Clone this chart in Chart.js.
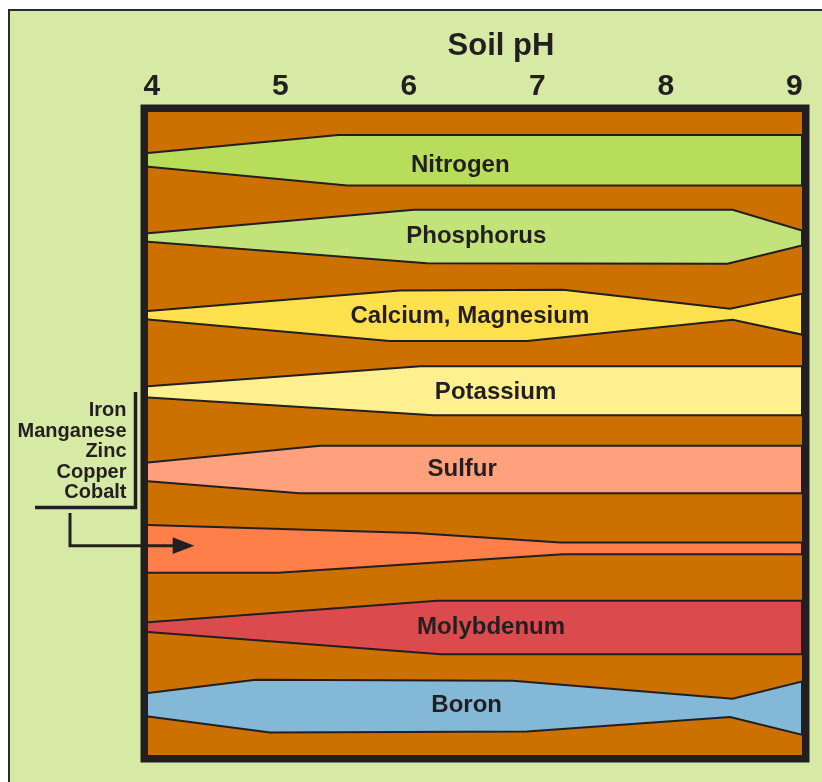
<!DOCTYPE html>
<html>
<head>
<meta charset="utf-8">
<script src="https://cdn.jsdelivr.net/npm/chart.js@4.4.1/dist/chart.umd.min.js"></script>
<style>
  html, body { margin: 0; padding: 0; background: #fff; }
  canvas { display: block; }
</style>
</head>
<body>
<canvas id="phChart" width="822" height="782"></canvas>
<script>
// soil pH axis
var phTicks = [4, 5, 6, 7, 8, 9];
var phMin = 3.97, phMax = 9.06;

var nutrients = ["Nitrogen", "Phosphorus", "Calcium, Magnesium", "Potassium", "Sulfur",
  "Iron, Manganese, Zinc, Copper, Cobalt", "Molybdenum", "Boron"];
var sideLabels = ["Iron", "Manganese", "Zinc", "Copper", "Cobalt"];

// band edges: [pH, half width above / below the band centre]
var nitrogenTop = [[3.97, 0.075], [5.45, 0.306], [9.06, 0.306]];
var nitrogenBottom = [[3.97, 0.10], [5.52, 0.343], [9.06, 0.343]];
var phosphorusTop = [[3.97, 0.047], [6.04, 0.346], [8.52, 0.346], [9.06, 0.081]];
var phosphorusBottom = [[3.97, 0.063], [6.14, 0.337], [8.48, 0.345], [9.06, 0.111]];
var calciumTop = [[3.97, 0.049], [5.93, 0.313], [7.20, 0.322], [8.50, 0.079], [9.06, 0.271]];
var calciumBottom = [[3.97, 0.058], [5.85, 0.335], [6.92, 0.335], [8.52, 0.061], [9.06, 0.253]];
var potassiumTop = [[3.97, 0.085], [6.09, 0.341], [9.06, 0.341]];
var potassiumBottom = [[3.97, 0.060], [6.19, 0.286], [9.06, 0.286]];
var sulfurTop = [[3.97, 0.109], [5.31, 0.324], [9.06, 0.324]];
var sulfurBottom = [[3.97, 0.131], [5.15, 0.286], [9.06, 0.286]];
var ironTop = [[3.97, 0.306], [6.05, 0.204], [7.18, 0.083], [9.06, 0.083]];
var ironBottom = [[3.97, 0.304], [4.98, 0.304], [7.20, 0.068], [9.06, 0.068]];
var molybdenumTop = [[3.97, 0.061], [6.22, 0.336], [9.06, 0.336]];
var molybdenumBottom = [[3.97, 0.063], [6.25, 0.348], [9.06, 0.348]];
var boronTop = [[3.97, 0.153], [4.81, 0.323], [6.81, 0.310], [8.52, 0.080], [9.06, 0.301]];
var boronBottom = [[3.97, 0.147], [4.92, 0.351], [6.92, 0.338], [8.50, 0.154], [9.06, 0.381]];

var FONT = '"Liberation Sans", Arial, Helvetica, sans-serif';
var INK = '#231f20';

var bands = [
  { top: nitrogenTop, bottom: nitrogenBottom, color: '#b7dd5b', labelAt: 6.40, dy: 7 },
  { top: phosphorusTop, bottom: phosphorusBottom, color: '#c2e37a', labelAt: 6.525, dy: -0.5 },
  { top: calciumTop, bottom: calciumBottom, color: '#ffe04d', labelAt: 6.475, dy: 1.5 },
  { top: potassiumTop, bottom: potassiumBottom, color: '#fff08f', labelAt: 6.675, dy: -0.3 },
  { top: sulfurTop, bottom: sulfurBottom, color: '#ffa17d', labelAt: 6.415, dy: -1.8 },
  { top: ironTop, bottom: ironBottom, color: '#ff7f4b', labelAt: null, dy: 0 },
  { top: molybdenumTop, bottom: molybdenumBottom, color: '#db4b4e', labelAt: 6.64, dy: 0 },
  { top: boronTop, bottom: boronBottom, color: '#83b8d7', labelAt: 6.45, dy: 0 }
];

function bandPoints(row, top, bottom) {
  var pts = top.map(function (p) { return { x: p[0], y: row - p[1] }; });
  bottom.slice().reverse().forEach(function (p) { pts.push({ x: p[0], y: row + p[1] }); });
  return pts;
}

var datasets = bands.map(function (b, i) {
  return {
    label: nutrients[i],
    data: bandPoints(i, b.top, b.bottom),
    showLine: true,
    fill: 'shape',
    backgroundColor: b.color,
    borderColor: INK,
    borderWidth: 2,
    pointRadius: 0,
    tension: 0
  };
});

var decor = {
  id: 'decor',
  beforeDraw: function (chart) {
    var c = chart.ctx, a = chart.chartArea;
    c.save();
    c.fillStyle = '#fff';
    c.fillRect(0, 0, chart.width, chart.height);
    c.fillStyle = '#d6eaa5';
    c.fillRect(9, 10, chart.width, chart.height);
    c.strokeStyle = '#2b2b2b';
    c.lineWidth = 2;
    c.beginPath();
    c.moveTo(9, chart.height);
    c.lineTo(9, 10);
    c.lineTo(chart.width, 10);
    c.stroke();
    c.fillStyle = '#cc7000';
    c.fillRect(a.left, a.top, a.right - a.left, a.bottom - a.top);
    c.restore();
  },
  afterDatasetsDraw: function (chart) {
    var c = chart.ctx, a = chart.chartArea;
    var xs = chart.scales.x, ys = chart.scales.y;
    c.save();
    c.strokeStyle = INK;
    c.lineWidth = 7.5;
    c.strokeRect(a.left - 3.75, a.top - 3.75, a.right - a.left + 7.5, a.bottom - a.top + 7.5);
    c.fillStyle = INK;
    c.font = 'bold 24px ' + FONT;
    c.textAlign = 'center';
    c.textBaseline = 'middle';
    bands.forEach(function (b, i) {
      if (b.labelAt === null) return;
      c.fillText(nutrients[i], xs.getPixelForValue(b.labelAt), ys.getPixelForValue(i) + b.dy);
    });
    c.restore();
  },
  afterDraw: function (chart) {
    var c = chart.ctx, a = chart.chartArea;
    c.save();
    c.fillStyle = INK;
    c.strokeStyle = INK;
    // title
    c.font = 'bold 31px ' + FONT;
    c.textAlign = 'center';
    c.textBaseline = 'middle';
    c.fillText('Soil pH', (a.left + a.right) / 2 + 26, 46);
    // side labels for the unlabelled band
    c.font = 'bold 20px ' + FONT;
    c.textAlign = 'right';
    sideLabels.forEach(function (t, i) {
      c.fillText(t, a.left - 21.5, 410.5 + i * 20.6);
    });
    // bracket
    c.lineWidth = 3.5;
    c.lineJoin = 'miter';
    c.beginPath();
    c.moveTo(35, 507.5);
    c.lineTo(a.left - 12.5, 507.5);
    c.lineTo(a.left - 12.5, 392);
    c.stroke();
    // arrow into the band
    c.lineWidth = 3;
    c.beginPath();
    c.moveTo(70, 513);
    c.lineTo(70, 545.7);
    c.lineTo(176, 545.7);
    c.stroke();
    c.beginPath();
    c.moveTo(172.7, 537.3);
    c.lineTo(194.3, 545.7);
    c.lineTo(172.7, 554.1);
    c.closePath();
    c.fill();
    c.restore();
  }
};

var ctx = document.getElementById('phChart');
var phChart = new Chart(ctx, {
  type: 'scatter',
  data: { datasets: datasets },
  options: {
    responsive: false,
    animation: false,
    layout: { padding: { top: 66, left: 148, right: 20, bottom: 27 } },
    plugins: {
      legend: { display: false },
      tooltip: { enabled: false }
    },
    scales: {
      x: {
        type: 'linear',
        position: 'top',
        min: phMin,
        max: phMax,
        afterBuildTicks: function (s) {
          s.ticks = phTicks.map(function (v) { return { value: v }; });
        },
        afterFit: function (s) { s.height = 46; },
        grid: { display: false, drawTicks: false },
        border: { display: false },
        ticks: {
          padding: 7,
          color: INK,
          autoSkip: false,
          maxRotation: 0,
          font: { family: FONT, size: 30, weight: 'bold' }
        }
      },
      y: {
        type: 'linear',
        reverse: true,
        min: -0.6,
        max: 7.64,
        display: false
      }
    }
  },
  plugins: [decor]
});
</script>
</body>
</html>
